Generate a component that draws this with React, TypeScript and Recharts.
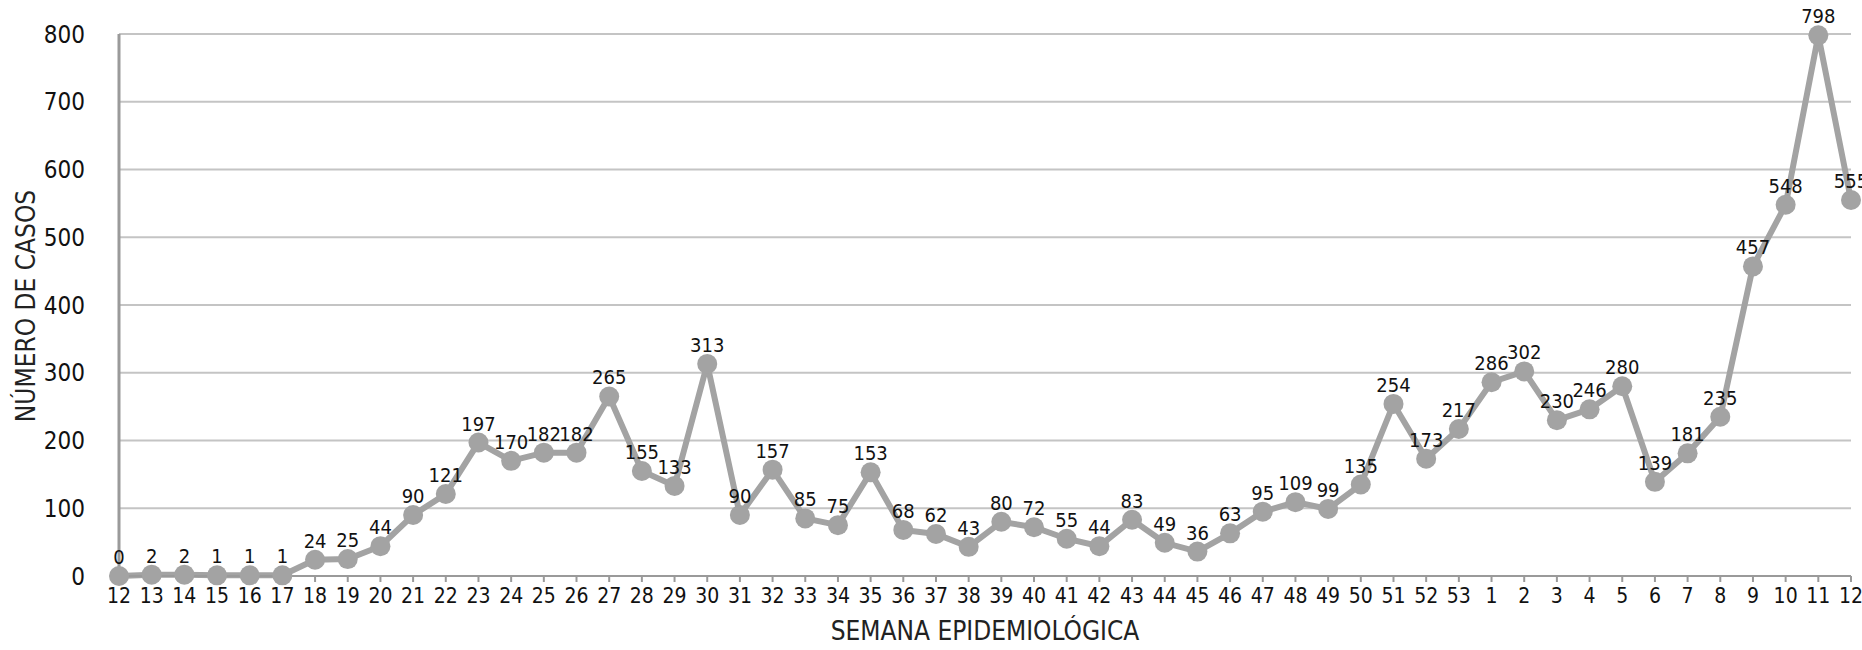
import React from 'react';
import {
  LineChart, Line, XAxis, YAxis, CartesianGrid, LabelList,
} from 'recharts';

const WEEKS = [
  '12', '13', '14', '15', '16', '17', '18', '19', '20', '21', '22', '23', '24', '25',
  '26', '27', '28', '29', '30', '31', '32', '33', '34', '35', '36', '37', '38', '39',
  '40', '41', '42', '43', '44', '45', '46', '47', '48', '49', '50', '51', '52', '53',
  '1', '2', '3', '4', '5', '6', '7', '8', '9', '10', '11', '12',
];

const CASES = [
  0, 2, 2, 1, 1, 1, 24, 25, 44, 90, 121, 197, 170, 182,
  182, 265, 155, 133, 313, 90, 157, 85, 75, 153, 68, 62, 43, 80,
  72, 55, 44, 83, 49, 36, 63, 95, 109, 99, 135, 254, 173, 217,
  286, 302, 230, 246, 280, 139, 181, 235, 457, 548, 798, 555,
];

const Y_TICKS = [0, 100, 200, 300, 400, 500, 600, 700, 800];

const FONT = '"Liberation Sans Narrow", "DejaVu Sans Condensed", Roboto, sans-serif';
const GRAY = '#a3a3a3';

const data = WEEKS.map((w, i) => ({ week: w, cases: CASES[i] }));

export default function App() {
  return (
    <div style={{ position: 'absolute', left: 0, top: 0, width: 1862, height: 650, background: '#fff' }}>
      <LineChart
        width={1862}
        height={650}
        data={data}
        margin={{ top: 34, right: 11, bottom: 4, left: 0 }}
        style={{ fontFamily: FONT }}
      >
        <CartesianGrid vertical={false} stroke="#c4c4c4" strokeWidth={2} />
        <XAxis
          dataKey="week"
          height={70}
          interval={0}
          stroke="#9a9a9a"
          strokeWidth={2}
          tickSize={6}
          tickMargin={6}
          tick={{ fill: '#111', fontSize: 21 }}
          label={{
            value: 'SEMANA EPIDEMIOLÓGICA',
            position: 'insideBottom',
            offset: 6,
            fill: '#222',
            fontSize: 26,
          }}
        />
        <YAxis
          width={119}
          domain={[0, 800]}
          ticks={Y_TICKS}
          interval={0}
          stroke="#9a9a9a"
          strokeWidth={3}
          tickLine={false}
          tickMargin={28}
          tick={{ fill: '#111', fontSize: 24 }}
          label={{
            content: () => (
              <text
                x={26}
                y={306}
                transform="rotate(-90, 26, 306)"
                textAnchor="middle"
                dominantBaseline="central"
                fill="#222"
                fontSize={26}
                fontFamily={FONT}
              >
                NÚMERO DE CASOS
              </text>
            ),
          }}
        />
        <Line
          type="linear"
          dataKey="cases"
          stroke={GRAY}
          strokeWidth={6}
          dot={{ r: 10, fill: GRAY, stroke: 'none' }}
          activeDot={false}
          isAnimationActive={false}
        >
          <LabelList dataKey="cases" position="top" offset={12} fill="#111" fontSize={20} />
        </Line>
      </LineChart>
    </div>
  );
}
